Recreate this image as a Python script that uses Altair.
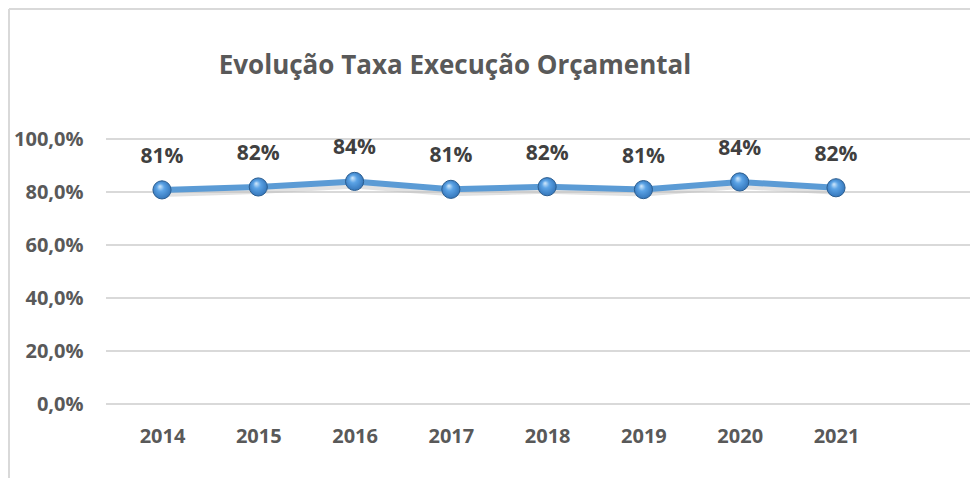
import altair as alt
import pandas as pd

years = ["2014", "2015", "2016", "2017", "2018", "2019", "2020", "2021"]
rates = [0.808, 0.819, 0.840, 0.810, 0.820, 0.809, 0.838, 0.816]
y_ticks = [0.0, 0.2, 0.4, 0.6, 0.8, 1.0]

df = pd.DataFrame({"ano": years, "taxa": rates})
grid_df = pd.DataFrame({"taxa": y_ticks})

FONT = "Open Sans"
x_enc = alt.X("ano:O", sort=years,
              scale=alt.Scale(type="point", range=[56, 730], padding=0),
              axis=alt.Axis(title=None, labelAngle=0, domain=False, ticks=False,
                            labelPadding=22, labelFont=FONT, labelFontSize=20,
                            labelFontWeight="bold", labelColor="#595959", grid=False))
y_scale = alt.Scale(domain=[0, 1], nice=False)
y_enc = alt.Y("taxa:Q", scale=y_scale,
              axis=alt.Axis(title=None, values=y_ticks, format=".1%",
                            labelExpr="replace(datum.label, '.', ',')",
                            domain=False, ticks=False, labelPadding=23,
                            labelFont=FONT, labelFontSize=20, labelFontWeight="bold",
                            labelColor="#595959", grid=False))

base = alt.Chart(df)

grid = alt.Chart(grid_df).mark_rule(color="#D9D9D9", strokeWidth=2).encode(
    y=alt.Y("taxa:Q", scale=y_scale), x=alt.value(0), x2=alt.value(864))
shadow = base.mark_line(color="#BFBFBF", strokeWidth=6, opacity=0.45, yOffset=4).encode(
    x=x_enc, y=y_enc)
line = base.mark_line(color="#5B9BD5", strokeWidth=6).encode(x=x_enc, y=y_enc)
points = base.mark_point(
    filled=True, size=330, opacity=1, shape="circle",
    fill=alt.RadialGradient(gradient="radial", x1=0.38, y1=0.3, r1=0, x2=0.5, y2=0.5, r2=0.6,
                            stops=[alt.GradientStop(color="#D8ECFC", offset=0),
                                   alt.GradientStop(color="#5BA3E6", offset=0.35),
                                   alt.GradientStop(color="#2C6CB0", offset=1)]),
    stroke="#2A5D90", strokeWidth=1).encode(x=x_enc, y=y_enc)
labels = base.mark_text(dy=-33, font=FONT, fontSize=21, fontWeight="bold",
                        color="#404040").encode(
    x=x_enc, y=y_enc, text=alt.Text("taxa:Q", format=".0%"))

border_v = alt.Chart().mark_rule(color="#D9D9D9", strokeWidth=2).encode(
    x=alt.value(-97), y=alt.value(-130), y2=alt.value(345))
border_h = alt.Chart().mark_rule(color="#D9D9D9", strokeWidth=2).encode(
    x=alt.value(-97), x2=alt.value(870), y=alt.value(-130))

chart = alt.layer(grid, shadow, line, points, labels, border_v, border_h).properties(
    width=864, height=265,
    autosize=alt.AutoSizeParams(type="none"),
    padding={"left": 98, "top": 131, "right": 0, "bottom": 74},
    title=alt.TitleParams("Evolução Taxa Execução Orçamental", anchor="middle", dx=-83,
                          offset=-71, font=FONT, fontSize=26, fontWeight="bold",
                          color="#595959"),
).configure_view(stroke=None)

chart.save("out.html", embed_options={"renderer": "svg", "actions": False})
